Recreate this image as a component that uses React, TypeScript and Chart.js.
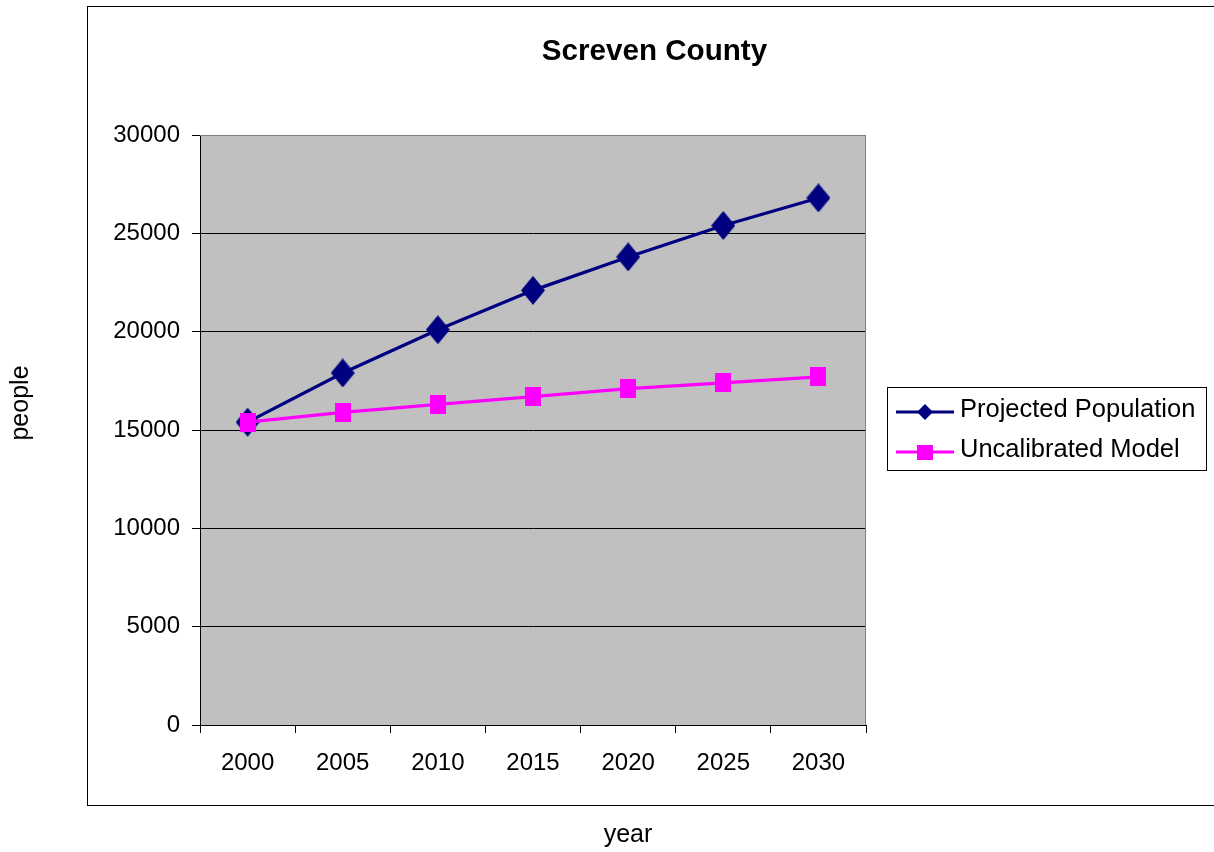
import React, { useEffect, useRef } from "react";
import { Chart, registerables } from "chart.js";

Chart.register(...registerables);

const chartTitle = "Screven County";
const xAxisTitle = "year";
const yAxisTitle = "people";
const years = ["2000", "2005", "2010", "2015", "2020", "2025", "2030"];
const seriesNames = ["Projected Population", "Uncalibrated Model"];
const projectedPopulation = [15400, 17900, 20100, 22100, 23800, 25400, 26800];
const uncalibratedModel = [15400, 15900, 16300, 16700, 17100, 17400, 17700];
const yMin = 0;
const yMax = 30000;
const yStep = 5000;

const NAVY = "#000080";
const PINK = "#FF00FF";
const FONT = "'Liberation Sans', Arial, sans-serif";

function makeDiamond(w: number, h: number, color: string) {
  const c = document.createElement("canvas");
  c.width = w;
  c.height = h;
  const g = c.getContext("2d")!;
  g.fillStyle = color;
  g.beginPath();
  g.moveTo(w / 2, 0);
  g.lineTo(w, h / 2);
  g.lineTo(w / 2, h);
  g.lineTo(0, h / 2);
  g.closePath();
  g.fill();
  return c;
}

function makeRect(w: number, h: number, color: string) {
  const c = document.createElement("canvas");
  c.width = w;
  c.height = h;
  const g = c.getContext("2d")!;
  g.fillStyle = color;
  g.fillRect(0, 0, w, h);
  return c;
}

export default function App() {
  const ref = useRef<HTMLCanvasElement>(null);

  useEffect(() => {
    const canvas = ref.current!;
    const diamond = makeDiamond(24, 29, NAVY);
    const square = makeRect(16, 19, PINK);

    const decor = {
      id: "decor",
      beforeDraw(chart: any) {
        const { ctx, chartArea: a } = chart;
        ctx.save();
        ctx.fillStyle = "#ffffff";
        ctx.fillRect(0, 0, chart.width, chart.height);
        ctx.strokeStyle = "#000000";
        ctx.lineWidth = 1;
        ctx.strokeRect(87.5, 6.5, 1140, 799);
        ctx.fillStyle = "#C0C0C0";
        ctx.fillRect(a.left, a.top, a.right - a.left, a.bottom - a.top);
        ctx.restore();
      },
      beforeDatasetsDraw(chart: any) {
        const { ctx, chartArea: a } = chart;
        ctx.save();
        ctx.strokeStyle = "#808080";
        ctx.lineWidth = 1;
        ctx.beginPath();
        ctx.moveTo(a.left, a.top + 0.5);
        ctx.lineTo(a.right - 0.5, a.top + 0.5);
        ctx.lineTo(a.right - 0.5, a.bottom);
        ctx.stroke();
        ctx.restore();
      },
      afterDraw(chart: any) {
        const { ctx } = chart;
        ctx.save();
        ctx.fillStyle = "#000000";
        ctx.font = `bold 29.6px ${FONT}`;
        ctx.textAlign = "center";
        ctx.textBaseline = "alphabetic";
        ctx.fillText(chartTitle, 654.5, 60);
        ctx.font = `25px ${FONT}`;
        ctx.fillText(xAxisTitle, 628, 842);
        ctx.save();
        ctx.translate(28, 403);
        ctx.rotate(-Math.PI / 2);
        ctx.fillText(yAxisTitle, 0, 0);
        ctx.restore();
        ctx.strokeStyle = "#000000";
        ctx.lineWidth = 1;
        ctx.strokeRect(887.5, 387.5, 319, 83);
        const rows = [
          { y: 412, color: NAVY, kind: "diamond" },
          { y: 452, color: PINK, kind: "square" },
        ];
        rows.forEach((r, i) => {
          ctx.strokeStyle = r.color;
          ctx.lineWidth = 3;
          ctx.beginPath();
          ctx.moveTo(896, r.y);
          ctx.lineTo(954, r.y);
          ctx.stroke();
          ctx.fillStyle = r.color;
          if (r.kind === "diamond") {
            ctx.beginPath();
            ctx.moveTo(925, r.y - 8);
            ctx.lineTo(933, r.y);
            ctx.lineTo(925, r.y + 8);
            ctx.lineTo(917, r.y);
            ctx.closePath();
            ctx.fill();
          } else {
            ctx.fillRect(917, r.y - 7, 16, 15);
          }
          ctx.fillStyle = "#000000";
          ctx.textAlign = "left";
          ctx.font = `25.5px ${FONT}`;
          ctx.fillText(seriesNames[i], 960, r.y + 5);
        });
        ctx.restore();
      },
    };

    const chart = new Chart(canvas, {
      type: "line",
      data: {
        labels: years,
        datasets: [
          {
            label: seriesNames[0],
            data: projectedPopulation,
            borderColor: NAVY,
            backgroundColor: NAVY,
            borderWidth: 3.2,
            pointStyle: diamond as any,
            tension: 0,
            order: 1,
          },
          {
            label: seriesNames[1],
            data: uncalibratedModel,
            borderColor: PINK,
            backgroundColor: PINK,
            borderWidth: 3.2,
            pointStyle: square as any,
            tension: 0,
            order: 0,
          },
        ],
      },
      options: {
        responsive: false,
        animation: false,
        devicePixelRatio: 1,
        layout: { padding: { top: 135, left: 0, right: 348, bottom: 0 } },
        plugins: {
          legend: { display: false },
          title: { display: false },
          tooltip: { enabled: false },
        },
        scales: {
          x: {
            type: "category",
            offset: true,
            afterFit: (s: any) => {
              s.height = 127;
            },
            grid: {
              drawOnChartArea: false,
              offset: true,
              tickLength: 8,
              color: "#000000",
            },
            border: { color: "#000000", width: 1 },
            ticks: {
              font: { family: FONT, size: 24 },
              color: "#000000",
              padding: 16,
              maxRotation: 0,
              autoSkip: false,
            },
          },
          y: {
            min: yMin,
            max: yMax,
            afterFit: (s: any) => {
              s.width = 200;
            },
            grid: {
              color: (c: any) =>
                c.tick && c.tick.value === yMax ? "#808080" : "#000000",
              tickColor: "#000000",
              tickLength: 8,
              lineWidth: 1,
            },
            border: { color: "#000000", width: 1 },
            ticks: {
              stepSize: yStep,
              font: { family: FONT, size: 24 },
              color: "#000000",
              padding: 12,
              callback: (v: any) => String(v),
            },
          },
        },
      },
      plugins: [decor],
    } as any);

    return () => chart.destroy();
  }, []);

  return (
    <div
      style={{
        position: "fixed",
        left: 0,
        top: 0,
        width: 1214,
        height: 852,
        background: "#ffffff",
      }}
    >
      <canvas
        ref={ref}
        width={1214}
        height={852}
        style={{ display: "block", width: 1214, height: 852 }}
      />
    </div>
  );
}
